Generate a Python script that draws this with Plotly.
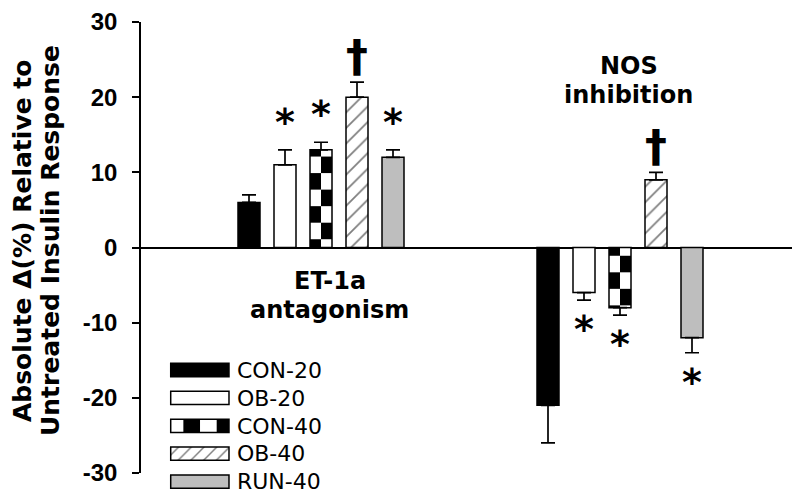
import plotly.graph_objects as go

# data
groups = ["ET-1a antagonism", "NOS inhibition"]
series = ["CON-20", "OB-20", "CON-40", "OB-40", "RUN-40"]
et1a_mean = [6, 11, 13, 20, 12]
et1a_err = [1, 2, 1, 2, 1]
nos_mean = [-21, -6, -8, 9, -12]
nos_err = [5, 1, 1, 1, 2]
et1a_sig = ["", "*", "*", "\u2020", "*"]
nos_sig = ["", "*", "*", "\u2020", "*"]
group_labels = [["ET-1a", "antagonism"], ["NOS", "inhibition"]]
y_ticks = [-30, -20, -10, 0, 10, 20, 30]

# the page body has an 8px margin, so the figure is 8px smaller than the window
W, H = 792, 487
OFF = 8


def px(x):  # window x pixel -> paper
    return (x - OFF) / W


def py(y):  # window y pixel -> paper
    return 1 - (y - OFF) / H


# styling
fills = ["black", "white", "white", "white", "#bebebe"]
hatch = ["", "", "", "/", ""]
checker_idx = 2
BOLD = "DejaVu Sans"
step = 0.1204      # distance between bars inside a group (x units)
bw = 0.0736        # bar width
cell = 2.2         # checker cell height (y units)
line = dict(color="black", width=1.5)
y_top, y_bot = 22, 473           # window pixels of +30 / -30
unit = (y_bot - y_top) / 60
y_zero = (y_top + y_bot) / 2
leg_row0, leg_gap = 370, 27.9    # window pixels of the legend rows


def yv(y):  # window y pixel -> data value
    return (y_zero - y) / unit


def checker(length, size, start, parity):
    # pieces (base, height) of the black cells of a checker column within [0, length]
    out = []
    k = 0
    while start + k * size < length:
        a = max(start + k * size, 0)
        b = min(start + (k + 1) * size, length)
        if k % 2 == parity and b > a:
            out.append((a, b - a))
        k += 1
    return out


fig = go.Figure()
gx = [0, 1]
means = [et1a_mean, nos_mean]
errs = [et1a_err, nos_err]

for i, name in enumerate(series):
    vals = [m[i] for m in means]
    ee = [e[i] for e in errs]
    plus = [e if v >= 0 else 0 for v, e in zip(vals, ee)]
    minus = [0 if v >= 0 else e for v, e in zip(vals, ee)]
    marker = dict(color=fills[i], line=line)
    if hatch[i]:
        marker["pattern"] = dict(shape=hatch[i], fgcolor="black", bgcolor="white",
                                 size=11, solidity=0.16)
    fig.add_bar(x=gx, y=vals, offset=(i - 2) * step - bw / 2, width=bw, marker=marker,
                error_y=dict(type="data", symmetric=False, array=plus, arrayminus=minus,
                             color="black", thickness=1.7, width=7),
                name=name)
    if i == checker_idx:
        for col in (0, 1):
            xs, bases, hs = [], [], []
            for g, v in zip(gx, vals):
                sgn = 1 if v >= 0 else -1
                for a, h in checker(abs(v), cell, -0.5 * cell, col):
                    xs.append(g)
                    bases.append(sgn * a)
                    hs.append(sgn * h)
            fig.add_bar(x=xs, y=hs, base=bases, width=bw / 2,
                        offset=(i - 2) * step - bw / 2 + col * bw / 2,
                        marker=dict(color="black", line=dict(width=0)), hoverinfo="skip")

# legend drawn as a small inset of horizontal bars
rows = list(range(len(series)))
sw = 13.3 / leg_gap
for i, name in enumerate(series):
    marker = dict(color=fills[i], line=line)
    if hatch[i]:
        marker["pattern"] = dict(shape=hatch[i], fgcolor="black", bgcolor="white",
                                 size=9, solidity=0.16)
    fig.add_bar(x=[1], y=[rows[i]], base=[0], orientation="h", width=sw,
                marker=marker, xaxis="x2", yaxis="y2")
    if i == checker_idx:
        pieces = checker(1, 0.286, -0.069, 1)
        fig.add_bar(x=[h for a, h in pieces], y=[rows[i]] * len(pieces),
                    base=[a for a, h in pieces], orientation="h", width=sw,
                    marker=dict(color="black", line=dict(width=0)),
                    xaxis="x2", yaxis="y2")

ann = []
# significance marks
for g, vals, ee, marks in zip(gx, means, errs, [et1a_sig, nos_sig]):
    for i, (v, e, m) in enumerate(zip(vals, ee, marks)):
        if not m:
            continue
        up = v >= 0
        if m == "*":
            size, shift = 38, (4 if up else -5)
        else:
            size, shift = 44, -2
        ann.append(dict(x=g + (i - 2) * step, y=v + (e if up else -e), xref="x", yref="y",
                        text=m, showarrow=False, yanchor="bottom" if up else "top",
                        yshift=shift, font=dict(family=BOLD, size=size, color="black",
                                                weight="bold")))

# group labels (window pixel centres of each line)
label_y = [[281, 309.7], [66.5, 94.7]]
for g, lines, ys in zip(gx, group_labels, label_y):
    for t, yy in zip(lines, ys):
        ann.append(dict(x=g + 0.03, y=yv(yy), xref="x", yref="y", text=t, showarrow=False,
                        xanchor="center", yanchor="middle",
                        font=dict(family=BOLD, size=24, color="black", weight="bold")))

# y axis title, two rotated lines
for t, cx in [("Absolute \u0394(%) Relative to", 22), ("Untreated Insulin Response", 50)]:
    ann.append(dict(x=px(cx), y=yv(241), xref="paper", yref="y", text=t, showarrow=False,
                    textangle=-90, xanchor="center", yanchor="middle",
                    font=dict(family=BOLD, size=25, color="black", weight="bold")))

fig.update_layout(
    width=W, height=H,
    margin=dict(l=0, r=0, t=0, b=0),
    barmode="overlay", showlegend=False,
    plot_bgcolor="rgba(0,0,0,0)", paper_bgcolor="white",
    xaxis=dict(domain=[px(141), 1], range=[-0.602, 1.602], visible=False),
    yaxis=dict(domain=[py(y_bot), py(y_top)], range=[-30, 30], automargin=False,
               tickvals=y_ticks, ticktext=[str(t) for t in y_ticks],
               showline=True, linecolor="black", linewidth=1.5,
               ticks="outside", ticklen=7, tickwidth=1.5, tickcolor="black",
               ticklabelstandoff=10, ticklabeloverflow="allow", showgrid=False,
               zeroline=True, zerolinecolor="black", zerolinewidth=1.5,
               tickfont=dict(family="Liberation Sans", size=24, color="black", weight="bold")),
    xaxis2=dict(domain=[px(167.8), px(231.9)], range=[-0.05, 1.05], visible=False,
                anchor="y2"),
    yaxis2=dict(domain=[0, py(leg_row0 - 0.5 * leg_gap)],
                range=[(495 - leg_row0) / leg_gap, -0.5], anchor="x2", side="right",
                tickvals=rows, ticktext=series, showline=False, showgrid=False,
                zeroline=False, ticks="", ticklabelstandoff=4, ticklabeloverflow="allow",
                automargin=False,
                tickfont=dict(family="DejaVu Sans", size=22, color="black")),
    annotations=ann,
)

fig.write_html("out.html")
